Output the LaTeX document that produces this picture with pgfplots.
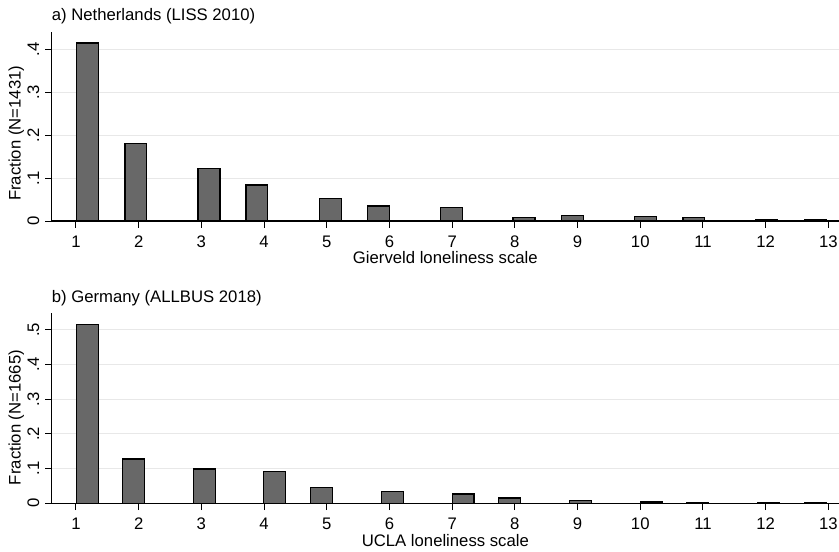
\documentclass[border=0pt]{standalone}
\usepackage{pgfplots}
\pgfplotsset{compat=1.18}
\usepackage{fontspec}
\setmainfont{Liberation Sans}
\definecolor{barfill}{RGB}{104,104,104}
\definecolor{gridc}{RGB}{232,232,232}
\begin{document}
\begin{tikzpicture}[font=\fontsize{16.7}{20}\selectfont]
\useasboundingbox (0,0) rectangle (839pt,-552pt);
\pgfplotsset{
  panel/.style={
    scale only axis, width=787.3pt,
    anchor=south west,
    xmin=0.613, xmax=13.17, ymin=0,
    axis x line*=bottom, axis y line*=left,
    axis line style={black, line width=1.1pt},
    tick align=outside, major tick length=6.7pt,
    tick style={black, line width=1pt},
    xtick={1,2,3,4,5,6,7,8,9,10,11,12,13},
    xticklabels={1,2,3,4,5,6,7,8,9,10,11,12,13},
    xticklabel style={anchor=base, yshift=-19.8pt, inner sep=0pt},
    yticklabel style={rotate=90, anchor=base, yshift=6pt, inner sep=0pt},
    ymajorgrids, grid style={gridc, line width=1pt},
    xlabel style={at={(axis description cs:0.5,0)}, anchor=base, yshift=-42.8pt, inner sep=0pt},
    clip=false,
  },
  hbar/.style={ybar, bar width=0.35, fill=barfill, draw=black, line width=1.3pt},
}
\begin{axis}[panel,
  at={(51.7pt,-221pt)}, height=189.3pt, ymax=0.441,
  ytick={0,0.1,0.2,0.3,0.4}, yticklabels={0,.1,.2,.3,.4},
  xlabel={Gierveld loneliness scale},
  ylabel={Fraction (N=1431)},
  ylabel style={at={(axis description cs:-0.0396,0.463)}, anchor=base, inner sep=0pt},
]
\addplot[hbar] coordinates {
(1.185,0.415) (1.955,0.181) (3.12,0.122) (3.885,0.084) (5.055,0.052)
(5.825,0.035) (6.985,0.032) (8.145,0.008) (8.92,0.013) (10.08,0.011)
(10.855,0.008) (12.01,0.002) (12.795,0.002)};
\end{axis}
\begin{axis}[panel,
  at={(51.7pt,-503.3pt)}, height=190.3pt, ymax=0.549,
  ytick={0,0.1,0.2,0.3,0.4,0.5}, yticklabels={0,.1,.2,.3,.4,.5},
  xlabel={UCLA loneliness scale},
  ylabel={Fraction (N=1665)},
  ylabel style={at={(axis description cs:-0.0396,0.451)}, anchor=base, inner sep=0pt},
]
\addplot[hbar] coordinates {
(1.18,0.515) (1.92,0.128) (3.05,0.099) (4.17,0.092) (4.92,0.046)
(6.05,0.035) (7.175,0.027) (7.915,0.015) (9.045,0.008) (10.175,0.004)
(10.915,0.003) (12.045,0.003) (12.795,0.002)};
\end{axis}
\node[anchor=base west, inner sep=0pt] at (51.7pt,-20pt) {a) Netherlands (LISS 2010)};
\node[anchor=base west, inner sep=0pt] at (51.7pt,-302pt) {b) Germany (ALLBUS 2018)};
\end{tikzpicture}
\end{document}
